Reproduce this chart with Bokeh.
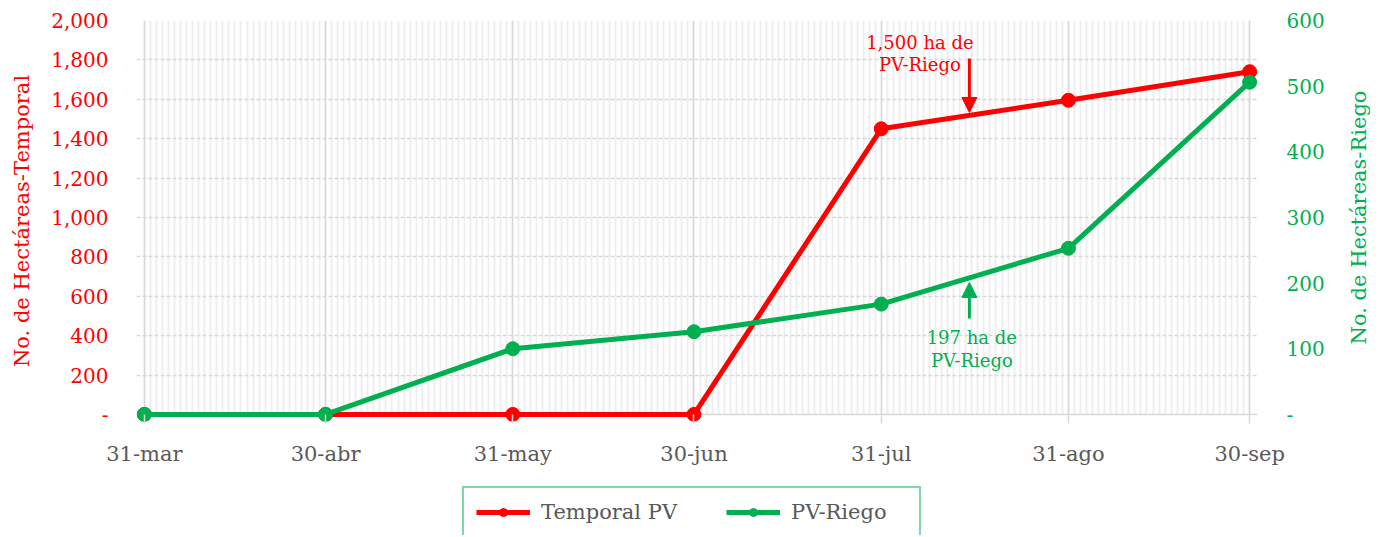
import math
import datetime as dt
from bokeh.plotting import figure
from bokeh.layouts import column, row
from bokeh.models import (Range1d, LinearAxis, FixedTicker, Legend, LegendItem,
                          Arrow, NormalHead, BoxAnnotation, Span)
from bokeh.core.properties import value
from bokeh.embed import file_html
from bokeh.resources import INLINE

# ---------------- data ----------------
dates = ["2024-03-31", "2024-04-30", "2024-05-31", "2024-06-30",
         "2024-07-31", "2024-08-31", "2024-09-30"]
date_labels = ["31-mar", "30-abr", "31-may", "30-jun", "31-jul", "31-ago", "30-sep"]
temporal_pv = [0, 0, 0, 0, 1450, 1595, 1740]
pv_riego = [0, 0, 100, 126, 168, 253, 506]
left_ticks = [0, 200, 400, 600, 800, 1000, 1200, 1400, 1600, 1800, 2000]
right_ticks = [0, 100, 200, 300, 400, 500, 600]
series_names = ["Temporal PV", "PV-Riego"]
left_title = "No. de Hectáreas-Temporal"
right_title = "No. de Hectáreas-Riego"

RED = "#FF0000"
GREEN = "#00B050"
GRAY = "#595959"
LIGHT = "#D9D9D9"
FONT = "DejaVu Serif"

d0 = dt.date.fromisoformat(dates[0])
days = [(dt.date.fromisoformat(d) - d0).days for d in dates]
n_days = days[-1]

W_MAIN, H_MAIN = 1337, 474
W_RLAB = 40
H_LEG = 61
TOP, BOTTOM = 20, 53
PAD_DAYS = 1.3
LEFT_MAX, RIGHT_MAX = 2000, 600
LEFT_PAD = 36                      # room below zero so markers at 0 are not cut
RIGHT_PAD = LEFT_PAD * RIGHT_MAX / LEFT_MAX

p = figure(width=W_MAIN, height=H_MAIN, output_backend="svg", toolbar_location=None,
           x_range=Range1d(-PAD_DAYS, n_days + PAD_DAYS),
           y_range=Range1d(-LEFT_PAD, LEFT_MAX),
           min_border_left=136, min_border_right=80, min_border_top=TOP,
           min_border_bottom=BOTTOM)
p.extra_y_ranges = {"right": Range1d(-RIGHT_PAD, RIGHT_MAX)}
p.outline_line_color = None

xticker = FixedTicker(ticks=days, minor_ticks=list(range(0, n_days + 1)))
p.xaxis.ticker = xticker
p.xaxis.major_label_overrides = {d: l for d, l in zip(days, date_labels)}
p.xaxis.axis_line_color = None
p.xaxis.major_tick_line_color = LIGHT
p.xaxis.major_tick_line_width = 1.5
p.xaxis.major_tick_out = 2
p.xaxis.major_tick_in = 7
p.xaxis.minor_tick_out = 0
p.xaxis.minor_tick_in = 0
p.xaxis.major_label_standoff = 18
p.xaxis.major_label_text_font = FONT
p.xaxis.major_label_text_font_size = "21px"
p.xaxis.major_label_text_color = GRAY

p.xgrid.ticker = xticker
p.xgrid.grid_line_color = LIGHT
p.xgrid.grid_line_width = 1.5
p.xgrid.minor_grid_line_color = "#EEEEEE"
p.xgrid.minor_grid_line_width = 2

yl = p.yaxis[0]
yl.ticker = FixedTicker(ticks=left_ticks)
yl.major_label_overrides = {t: (f"{t:,}" if t else "-") for t in left_ticks}
yl.axis_line_color = None
yl.major_tick_line_color = None
yl.major_tick_out = 0
yl.major_tick_in = 0
yl.minor_tick_line_color = None
yl.major_label_standoff = 28
yl.major_label_text_font = FONT
yl.major_label_text_font_size = "20px"
yl.major_label_text_color = RED
yl.axis_label = left_title
yl.axis_label_text_font = FONT
yl.axis_label_text_font_size = "21px"
yl.axis_label_text_font_style = "normal"
yl.axis_label_text_color = RED
yl.axis_label_standoff = 14

p.ygrid.ticker = FixedTicker(ticks=left_ticks)
p.ygrid.grid_line_color = LIGHT
p.ygrid.grid_line_width = 1.5
p.ygrid.grid_line_dash = "4 2"

yr = LinearAxis(y_range_name="right", ticker=FixedTicker(ticks=right_ticks))
yr.major_label_overrides = {t: (f"{t:,}" if t else "-") for t in right_ticks}
yr.axis_line_color = None
yr.major_tick_line_color = None
yr.major_tick_out = 0
yr.major_tick_in = 0
yr.minor_tick_line_color = None
yr.major_label_standoff = 29
yr.major_label_text_font = FONT
yr.major_label_text_font_size = "20px"
yr.major_label_text_color = GREEN
p.add_layout(yr, "right")

# blank strip below zero, and the solid base line at zero
p.add_layout(BoxAnnotation(top=0, fill_color="white", fill_alpha=1,
                           line_color=None, level="underlay"))
p.add_layout(Span(location=0, dimension="width", line_color=LIGHT,
                  line_width=1.5, level="underlay"))

# ---------------- series ----------------
p.line(days, temporal_pv, line_color=RED, line_width=5)
p.scatter(days, temporal_pv, size=14, fill_color=RED, line_color=RED)
p.line(days, pv_riego, line_color=GREEN, line_width=5, y_range_name="right")
p.scatter(days, pv_riego, size=14, fill_color=GREEN, line_color=GREEN,
          y_range_name="right")

# ---------------- annotations ----------------
ann_x = 136.6
p.add_layout(Arrow(end=NormalHead(size=15, fill_color=RED, line_color=RED, line_width=1),
                   x_start=ann_x, y_start=1807, x_end=ann_x, y_end=1533,
                   line_color=RED, line_width=3))
p.add_layout(Arrow(end=NormalHead(size=15, fill_color=GREEN, line_color=GREEN, line_width=1),
                   x_start=ann_x, y_start=487, x_end=ann_x, y_end=670,
                   line_color=GREEN, line_width=3))
p.text(x=[128.4, 128.4], y=[1888, 1777], text=["1,500 ha de", "PV-Riego"],
       text_color=RED, text_font=value(FONT), text_font_size="18px",
       text_align="center", text_baseline="middle")
p.text(x=[137.0, 137.0], y=[391, 274], text=["197 ha de", "PV-Riego"],
       text_color=GREEN, text_font=value(FONT), text_font_size="18px",
       text_align="center", text_baseline="middle")

# ---------------- right axis title (reads bottom-to-top, like the reference) ----
rf = figure(width=W_RLAB, height=H_MAIN, output_backend="svg", toolbar_location=None,
            x_range=Range1d(0, W_RLAB), y_range=Range1d(-LEFT_PAD, LEFT_MAX),
            x_axis_location=None, y_axis_location=None,
            min_border_left=0, min_border_right=0, min_border_top=TOP,
            min_border_bottom=BOTTOM)
rf.outline_line_color = None
rf.grid.visible = False
rf.text(x=[21], y=[LEFT_MAX / 2], text=[right_title], angle=math.pi / 2,
        text_color=GREEN, text_font=value(FONT), text_font_size="21px",
        text_align="center", text_baseline="middle")

# ---------------- legend strip (bottom cut off like the reference) ----
lf = figure(width=W_MAIN, height=H_LEG, output_backend="svg", toolbar_location=None,
            x_range=Range1d(1000, 1001), y_range=Range1d(1000, 1001),
            x_axis_location=None, y_axis_location=None,
            min_border_left=0, min_border_right=0, min_border_top=0,
            min_border_bottom=0)
lf.outline_line_color = None
lf.grid.visible = False
lr1 = lf.line(days, temporal_pv, line_color=RED, line_width=5)
lp1 = lf.scatter(days, temporal_pv, size=14, fill_color=RED, line_color=RED)
lr2 = lf.line(days, pv_riego, line_color=GREEN, line_width=5)
lp2 = lf.scatter(days, pv_riego, size=14, fill_color=GREEN, line_color=GREEN)

legend = Legend(items=[LegendItem(label=series_names[0], renderers=[lr1, lp1]),
                       LegendItem(label=series_names[1], renderers=[lr2, lp2])],
                orientation="horizontal", location=(326, -3),
                padding=12, spacing=49, glyph_width=54, glyph_height=20,
                label_height=20, label_width=116, label_standoff=11,
                label_text_font=FONT, label_text_font_size="21px",
                label_text_color=GRAY, border_line_color=GREEN,
                border_line_width=2, background_fill_color="white",
                background_fill_alpha=1, margin=0)
lf.add_layout(legend, "center")

layout = row(column(p, lf, spacing=0), rf, spacing=0)
open("out.html", "w").write(file_html(layout, INLINE))
